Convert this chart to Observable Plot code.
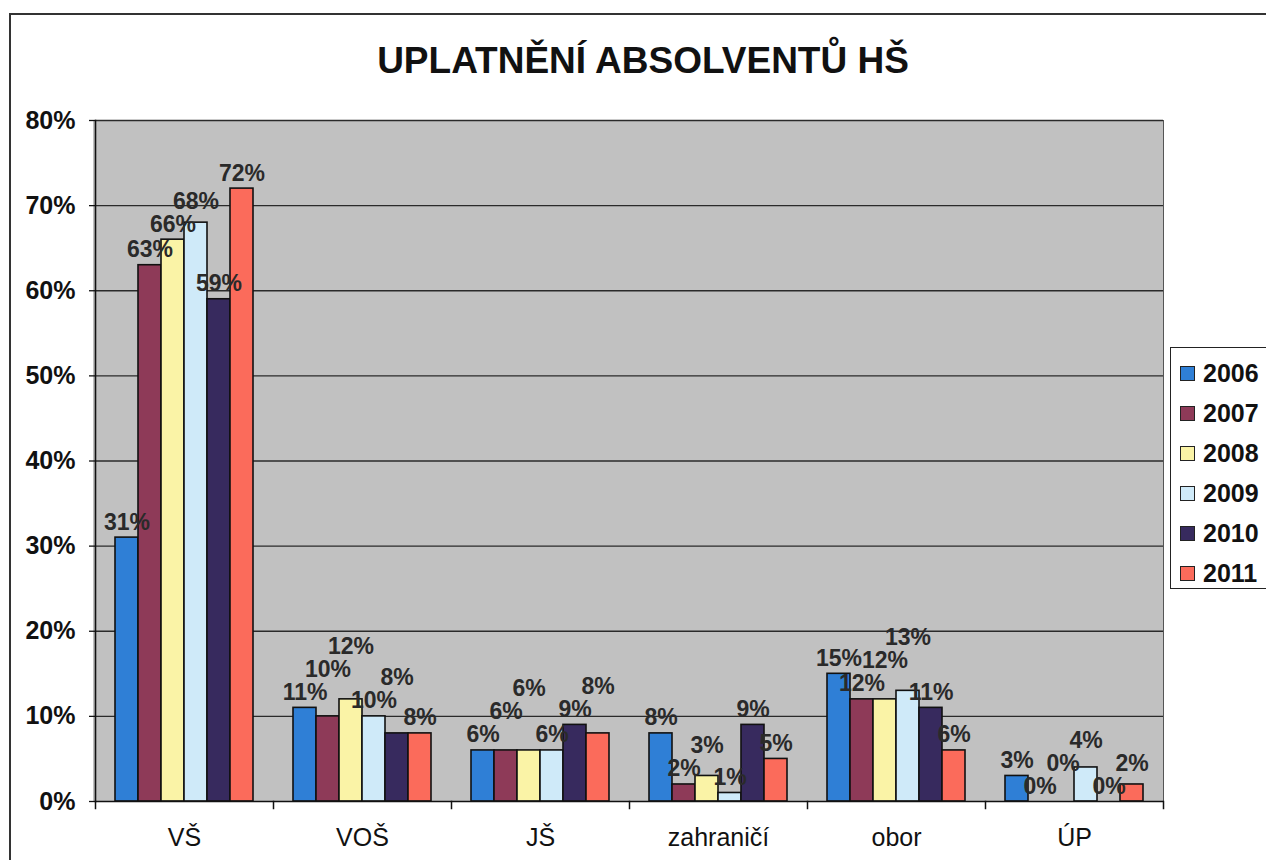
<!DOCTYPE html>
<html>
<head>
<meta charset="utf-8">
<script src="https://cdn.jsdelivr.net/npm/d3@7"></script>
<script src="https://cdn.jsdelivr.net/npm/@observablehq/plot@0.6"></script>
<style>
  html, body { margin: 0; padding: 0; background: #fff; }
  #wrap { position: relative; width: 1266px; height: 860px; overflow: hidden; font-family: "Liberation Sans", Arial, sans-serif; }
  #border { position: absolute; left: 9px; top: 13px; width: 1300px; height: 900px; border-left: 2px solid #333; border-top: 2px solid #333; }
  #plotbg { position: absolute; background: #c1c1c1; }
  #title { position: absolute; left: 0; width: 1286px; top: 40px; text-align: center; font-size: 37px; font-weight: bold; color: #111; }
  #chart { position: absolute; left: 0; top: 0; }
  #legend { position: absolute; left: 1170px; top: 347px; width: 120px; height: 240px; border: 1.5px solid #222; background: #fff; }
  .item { position: absolute; left: 9px; height: 30px; display: flex; align-items: center; font-size: 25px; font-weight: bold; color: #111; }
  .sw { width: 13px; height: 13px; border: 1.5px solid #222; margin-right: 8px; }
</style>
</head>
<body>
<div id="wrap">
  <div id="border"></div>
  <div id="plotbg"></div>
  <div id="chart"></div>
  <div id="title">UPLATNĚNÍ ABSOLVENTŮ HŠ</div>
  <div id="legend"></div>
</div>
<script>
const categories = ["VŠ", "VOŠ", "JŠ", "zahraničí", "obor", "ÚP"];
const years = ["2006", "2007", "2008", "2009", "2010", "2011"];
const values2006 = [31, 11, 6, 8, 15, 3];
const values2007 = [63, 10, 6, 2, 12, 0];
const values2008 = [66, 12, 6, 3, 12, 0];
const values2009 = [68, 10, 6, 1, 13, 4];
const values2010 = [59, 8, 9, 9, 11, 0];
const values2011 = [72, 8, 8, 5, 6, 2];
const colors = ["#2f7fd6", "#8e3a58", "#faf3a6", "#cfeaf9", "#372a5e", "#fb6b5b"];
const yTicks = [0, 10, 20, 30, 40, 50, 60, 70, 80];

const series = [values2006, values2007, values2008, values2009, values2010, values2011];
const labelGap = 2.7; // minimal vertical separation (in %) between neighbouring labels
const data = [];
categories.forEach((cat, i) => {
  let prev = null;
  years.forEach((year, j) => {
    const value = series[j][i];
    let labelY = value;
    if (prev !== null && Math.abs(labelY - prev) < labelGap) labelY = prev + labelGap;
    prev = labelY;
    data.push({cat, year, value, labelY});
  });
});

const W = 1266, H = 860;
const mTop = 120, mBottom = 59, mLeft = 93, mRight = 102;
const innerH = H - mTop - mBottom;

const bg = document.getElementById("plotbg");
bg.style.left = mLeft + "px";
bg.style.top = mTop + "px";
bg.style.width = (W - mLeft - mRight) + "px";
bg.style.height = innerH + "px";

const chart = Plot.plot({
  width: W,
  height: H,
  marginTop: mTop,
  marginBottom: mBottom,
  marginLeft: mLeft,
  marginRight: mRight,
  style: {background: "transparent", fontFamily: "Liberation Sans, Arial, sans-serif", color: "#111", overflow: "visible"},
  fx: {domain: categories, padding: 0, label: null},
  x: {domain: years, paddingInner: 0, paddingOuter: 0.745, axis: null},
  y: {domain: [0, 80], label: null},
  color: {domain: years, range: colors},
  marks: [
    Plot.gridY(yTicks.slice(1), {stroke: "#2a2a2a", strokeOpacity: 1, strokeWidth: 1.3}),
    Plot.barY(data, {fx: "cat", x: "year", y: "value", fill: "year", stroke: "#111", strokeWidth: 1.6}),
    Plot.text(data, {fx: "cat", x: "year", y: "labelY", text: d => d.value + "%", lineAnchor: "bottom", dy: -8, fontSize: 23, fontWeight: "bold", fill: "#2a2a2a"}),
    Plot.ruleY([0], {stroke: "#111", strokeWidth: 1.6}),
    Plot.frame({anchor: "left", facetAnchor: "left", stroke: "#111", strokeWidth: 1.6}),
    Plot.frame({anchor: "right", facetAnchor: "right", stroke: "#555", strokeWidth: 1}),
    Plot.frame({anchor: "left", insetTop: innerH, insetBottom: -7, stroke: "#111", strokeWidth: 1.5}),
    Plot.frame({anchor: "right", facetAnchor: "right", insetTop: innerH, insetBottom: -7, stroke: "#111", strokeWidth: 1.5}),
    Plot.axisY(yTicks, {tickFormat: d => d + "%", fontSize: 25, fontWeight: "bold", tickSize: 6, tickPadding: 14, stroke: "#111", strokeWidth: 1.3, label: null}),
    Plot.axisFx({anchor: "bottom", tickSize: 0, tickPadding: 27, fontSize: 25, label: null})
  ]
});
document.getElementById("chart").appendChild(chart);

const legend = document.getElementById("legend");
years.forEach((y, i) => {
  const item = document.createElement("div");
  item.className = "item";
  item.style.top = (10 + i * 40) + "px";
  const sw = document.createElement("div");
  sw.className = "sw";
  sw.style.background = colors[i];
  const t = document.createElement("span");
  t.textContent = y;
  item.appendChild(sw);
  item.appendChild(t);
  legend.appendChild(item);
});
</script>
</body>
</html>
